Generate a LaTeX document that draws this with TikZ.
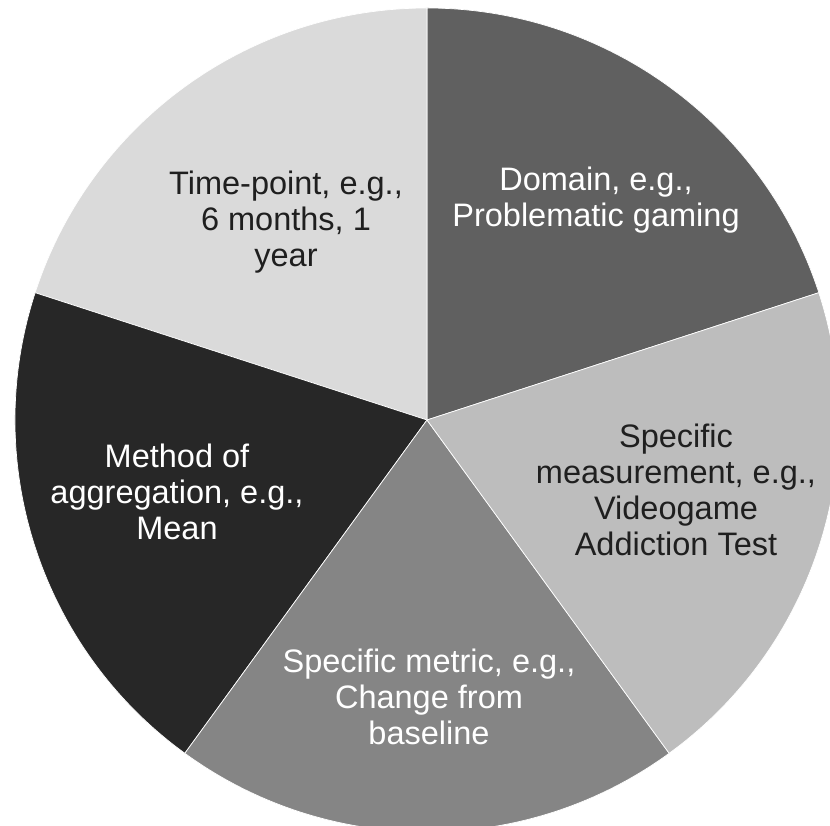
\documentclass[tikz,border=0pt]{standalone}
\usepackage{fontspec}
\setmainfont{Liberation Sans}
\usepackage{tikz}
\usetikzlibrary{positioning}
\definecolor{domgray}{HTML}{606060}
\definecolor{measgray}{HTML}{BDBDBD}
\definecolor{metrgray}{HTML}{858585}
\definecolor{methgray}{HTML}{272727}
\definecolor{timegray}{HTML}{DADADA}
\tikzset{
  slice/.style = {draw=white, line width=0.4pt},% one piece of the pie
  pielabel/.style = {align=center, inner sep=0pt,
    font=\fontsize{18.5}{20.5}\selectfont},
  pielabel_w/.style = {pielabel, text=white},% text on a dark piece
  pielabel_k/.style = {pielabel, text=black!88}% text on a light piece
}

\begin{document}
\begin{tikzpicture}
        \useasboundingbox (-8.54,-8.12) rectangle (8.06,8.4);
        \clip (-8.54,-8.12) rectangle (8.06,8.4);
        \coordinate (O) at (0,0);
        % the five pieces, 72 degrees each
        \filldraw[slice, fill=domgray] (O) -- (18:8.24)
            arc[start angle=18, end angle=90, radius=8.24] -- cycle;
        \filldraw[slice, fill=timegray] (O) -- (90:8.24)
            arc[start angle=90, end angle=162, radius=8.24] -- cycle;
        \filldraw[slice, fill=methgray] (O) -- (162:8.24)
            arc[start angle=162, end angle=234, radius=8.24] -- cycle;
        \filldraw[slice, fill=metrgray] (O) -- (234:8.24)
            arc[start angle=234, end angle=306, radius=8.24] -- cycle;
        \filldraw[slice, fill=measgray] (O) -- (-54:8.24)
            arc[start angle=-54, end angle=18, radius=8.24] -- cycle;
        % labels
        \node [pielabel_w] (domain) at (3.38,4.40) {Domain, e.g.,\\Problematic gaming};
        \node [pielabel_k] (timept) at (-2.82,3.96) {Time-point, e.g.,\\6 months, 1\\year};
        \node [pielabel_k] (measure) at (4.98,-1.40) {Specific\\measurement, e.g.,\\Videogame\\Addiction Test};
        \node [pielabel_w] (metric) at (0.04,-5.54) {Specific metric, e.g.,\\Change from\\baseline};
        \node [pielabel_w] (method) at (-5.0,-1.44) {Method of\\aggregation, e.g.,\\Mean};
\end{tikzpicture}
\end{document}
